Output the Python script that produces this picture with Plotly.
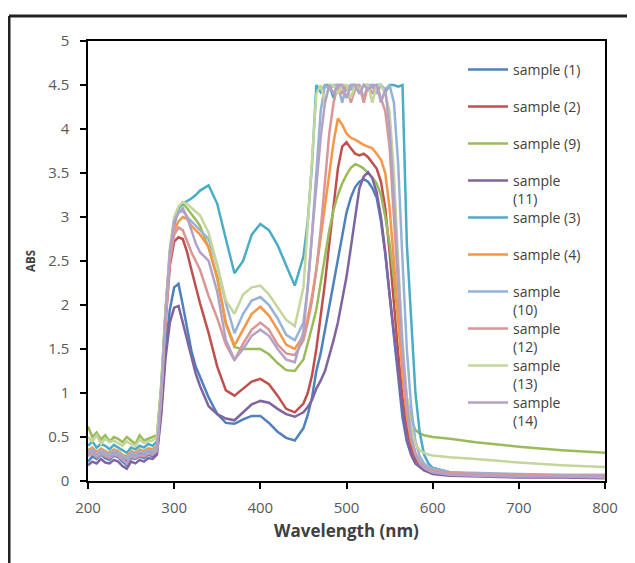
import plotly.graph_objects as go

wavelength = [200,205,210,215,220,225,230,235,240,245,250,255,260,265,270,275,280,
              285,290,295,300,305,310,315,320,325,330,
              340,350,360,370,380,390,400,410,420,430,440,450,
              455,460,465,470,475,480,485,490,495,500,505,510,515,520,525,530,535,540,545,550,555,560,565,570,575,580,585,590,595,600,
              620,650,700,750,800]

names = ["sample (1)", "sample (2)", "sample (9)", "sample<br>(11)", "sample (3)",
         "sample (4)", "sample<br>(10)", "sample<br>(12)", "sample<br>(13)", "sample<br>(14)"]
colors = ["#4F81BD", "#C0504D", "#9BBB59", "#8064A2", "#4BACC6",
          "#F79646", "#95B3D7", "#D99694", "#C3D69B", "#B3A2C7"]

s1 = [0.22,0.28,0.25,0.30,0.26,0.24,0.29,0.27,0.22,0.18,0.26,0.25,0.28,0.26,0.30,0.28,0.32,
      0.80,1.50,1.95,2.20,2.24,2.00,1.72,1.48,1.30,1.18,
      0.95,0.76,0.66,0.65,0.70,0.74,0.74,0.66,0.56,0.49,0.46,0.60,
      0.75,0.95,1.25,1.45,1.72,1.97,2.22,2.50,2.80,3.05,3.22,3.34,3.40,3.43,3.40,3.33,3.22,2.95,2.58,2.13,1.65,1.18,0.72,0.45,0.30,0.20,0.16,0.13,0.11,0.10,
      0.08,0.07,0.06,0.05,0.05]
s2 = [0.30,0.34,0.28,0.33,0.30,0.27,0.32,0.30,0.26,0.22,0.30,0.28,0.31,0.30,0.33,0.31,0.36,
      0.95,1.80,2.45,2.72,2.77,2.75,2.60,2.40,2.20,2.02,
      1.68,1.30,1.03,0.97,1.05,1.13,1.16,1.10,0.97,0.82,0.78,0.88,
      1.00,1.20,1.50,1.85,2.25,2.70,3.15,3.55,3.80,3.85,3.78,3.72,3.70,3.72,3.68,3.62,3.55,3.40,3.10,2.60,2.00,1.45,0.95,0.60,0.38,0.25,0.18,0.14,0.12,0.10,
      0.08,0.07,0.06,0.05,0.05]
s9 = [0.62,0.50,0.55,0.47,0.52,0.45,0.50,0.48,0.44,0.50,0.46,0.42,0.52,0.46,0.48,0.50,0.52,
      1.10,1.95,2.60,2.95,3.10,3.15,3.10,3.04,2.97,2.90,
      2.65,2.30,1.78,1.52,1.50,1.50,1.50,1.44,1.34,1.26,1.25,1.38,
      1.55,1.75,1.95,2.25,2.55,2.85,3.08,3.25,3.38,3.48,3.56,3.60,3.58,3.55,3.50,3.45,3.38,3.25,3.00,2.70,2.30,1.80,1.35,0.95,0.70,0.58,0.54,0.52,0.51,0.50,
      0.48,0.44,0.39,0.35,0.32]
s11 = [0.18,0.22,0.20,0.25,0.21,0.20,0.24,0.22,0.17,0.14,0.22,0.20,0.24,0.22,0.26,0.25,0.30,
       0.75,1.40,1.80,1.97,1.99,1.80,1.60,1.41,1.22,1.08,
       0.85,0.76,0.71,0.69,0.78,0.87,0.91,0.89,0.82,0.76,0.73,0.78,
       0.84,0.92,1.05,1.14,1.25,1.42,1.60,1.80,2.05,2.32,2.65,3.00,3.33,3.46,3.51,3.44,3.28,3.00,2.60,2.12,1.68,1.25,0.82,0.48,0.30,0.20,0.16,0.12,0.10,0.08,
       0.06,0.05,0.04,0.04,0.03]
s3 = [0.40,0.45,0.38,0.42,0.40,0.36,0.41,0.38,0.35,0.32,0.38,0.36,0.40,0.38,0.42,0.40,0.45,
      1.05,1.90,2.55,2.90,3.10,3.15,3.18,3.21,3.25,3.30,
      3.36,3.15,2.75,2.36,2.50,2.80,2.92,2.85,2.68,2.45,2.22,2.55,
      2.95,3.60,4.50,4.42,4.50,4.50,4.35,4.50,4.50,4.45,4.50,4.50,4.40,4.50,4.50,4.47,4.50,4.50,4.42,4.50,4.50,4.48,4.50,2.70,1.80,1.00,0.55,0.30,0.20,0.15,
      0.10,0.08,0.07,0.06,0.06]
s4 = [0.35,0.38,0.33,0.37,0.34,0.32,0.36,0.34,0.30,0.28,0.34,0.32,0.36,0.34,0.37,0.36,0.40,
      1.00,1.90,2.55,2.85,2.95,3.00,2.98,2.90,2.85,2.80,
      2.66,2.32,1.80,1.54,1.72,1.90,1.98,1.88,1.72,1.55,1.50,1.65,
      1.85,2.10,2.40,2.75,3.10,3.50,3.85,4.12,4.05,3.95,3.90,3.88,3.85,3.82,3.80,3.78,3.72,3.65,3.50,3.10,2.50,1.80,1.20,0.75,0.45,0.30,0.22,0.17,0.14,0.12,
      0.09,0.08,0.07,0.06,0.06]
s10 = [0.33,0.36,0.30,0.35,0.32,0.30,0.34,0.32,0.28,0.26,0.32,0.30,0.34,0.32,0.35,0.34,0.38,
       1.00,1.90,2.60,2.95,3.05,3.07,3.00,2.95,2.90,2.85,
       2.75,2.45,2.02,1.68,1.90,2.05,2.09,2.00,1.85,1.66,1.60,1.80,
       2.20,2.80,3.50,4.20,4.50,4.45,4.50,4.50,4.30,4.50,4.45,4.50,4.50,4.35,4.50,4.50,4.40,4.50,4.45,4.50,4.30,3.60,2.50,1.50,0.85,0.45,0.28,0.20,0.16,0.14,
       0.10,0.09,0.08,0.07,0.07]
s12 = [0.28,0.32,0.27,0.31,0.28,0.26,0.30,0.28,0.24,0.20,0.28,0.26,0.29,0.28,0.31,0.30,0.34,
       0.95,1.80,2.50,2.80,2.88,2.85,2.72,2.60,2.50,2.40,
       2.10,1.85,1.55,1.37,1.56,1.72,1.80,1.72,1.55,1.45,1.43,1.60,
       1.80,2.05,2.40,2.85,3.40,3.95,4.30,4.50,4.40,4.50,4.30,4.45,4.50,4.30,4.50,4.40,4.50,4.35,4.20,3.80,3.00,2.10,1.40,0.85,0.50,0.32,0.22,0.17,0.14,0.12,
       0.09,0.08,0.07,0.06,0.06]
s13 = [0.50,0.45,0.52,0.42,0.48,0.44,0.46,0.43,0.40,0.45,0.42,0.40,0.47,0.43,0.45,0.46,0.50,
       1.05,1.95,2.65,3.00,3.12,3.17,3.15,3.10,3.06,3.02,
       2.82,2.45,2.05,1.90,2.12,2.20,2.22,2.12,1.98,1.83,1.76,2.20,
       2.90,3.70,4.40,4.50,4.30,4.50,4.50,4.40,4.50,4.50,4.35,4.50,4.45,4.50,4.50,4.30,4.50,4.50,4.40,4.20,3.50,2.50,1.60,0.95,0.60,0.42,0.35,0.32,0.30,0.29,
       0.27,0.25,0.21,0.18,0.16]
s14 = [0.30,0.34,0.28,0.32,0.30,0.27,0.31,0.29,0.25,0.20,0.29,0.27,0.30,0.29,0.32,0.31,0.35,
       1.00,1.90,2.60,2.95,3.05,3.10,3.00,2.85,2.70,2.60,
       2.50,2.15,1.60,1.38,1.50,1.65,1.72,1.65,1.50,1.38,1.35,1.70,
       2.20,2.80,3.40,3.90,4.30,4.50,4.40,4.50,4.50,4.35,4.50,4.50,4.40,4.50,4.45,4.50,4.50,4.30,4.45,4.00,3.20,2.30,1.50,0.90,0.50,0.30,0.20,0.15,0.12,0.10,
       0.07,0.06,0.05,0.05,0.04]

series = [s1, s2, s9, s11, s3, s4, s10, s12, s13, s14]

x_ticks = [200, 300, 400, 500, 600, 700, 800]
y_ticks = [0, 0.5, 1, 1.5, 2, 2.5, 3, 3.5, 4, 4.5, 5]
y_labels = ["0", "0.5", "1", "1.5", "2", "2.5", "3", "3.5", "4", "4.5", "5"]

FONT = "Open Sans"
W, H = 635, 563
OFF = 8                      # page body offset
PL, PT, PW, PH = 88, 41, 517, 440   # plot box in screenshot pixels
L = PL - OFF
T = PT - OFF
R = W - L - PW
B = H - T - PH

def py2paper(py):
    return (PT + PH - py) / PH

def px2paper(px):
    return (px - PL) / PW

fig = go.Figure()
for i, (nm, col, ys) in enumerate(zip(names, colors, series)):
    lg = "legend" if i == 0 else f"legend{i+1}"
    fig.add_trace(go.Scatter(x=wavelength, y=ys, mode="lines", name=nm,
                             line=dict(color=col, width=2.5), legend=lg))

layout_legends = {}
for i in range(10):
    key = "legend" if i == 0 else f"legend{i+1}"
    yc = 68 + 37 * i
    layout_legends[key] = dict(
        x=px2paper(463), y=py2paper(yc - 14), xanchor="left", yanchor="top",
        valign="top", bgcolor="rgba(0,0,0,0)", borderwidth=0,
        font=dict(family=FONT, size=14, color="#404040"),
        tracegroupgap=0, itemwidth=40)

fig.update_layout(
    width=W, height=H,
    margin=dict(l=L, r=R, t=T, b=B),
    paper_bgcolor="white", plot_bgcolor="white",
    font=dict(family=FONT, size=15, color="#595959"),
    showlegend=True,
    **layout_legends,
    xaxis=dict(range=[200, 800], tickvals=x_ticks, ticktext=[str(v) for v in x_ticks],
               showgrid=False, zeroline=False, showline=True, linecolor="black", linewidth=1.5,
               mirror=True, ticks="outside", ticklen=6, tickcolor="black", tickwidth=1.5,
               ticklabelstandoff=6,
               title=dict(text="<b>Wavelength (nm)</b>", font=dict(family=FONT, size=17, color="#404040"),
                          standoff=9)),
    yaxis=dict(range=[0, 5], tickvals=y_ticks, ticktext=y_labels,
               showgrid=False, zeroline=False, showline=True, linecolor="black", linewidth=1.5,
               mirror=True, ticks="outside", ticklen=6, tickcolor="black", tickwidth=1.5,
               ticklabelstandoff=8,
               title=dict(text="<b>ABS</b>", font=dict(family=FONT, size=11.5, color="#404040"),
                          standoff=10)),
    shapes=[
        dict(type="line", xref="paper", yref="paper", x0=px2paper(9), x1=px2paper(650),
             y0=py2paper(16), y1=py2paper(16), line=dict(color="#222222", width=3)),
        dict(type="line", xref="paper", yref="paper", x0=px2paper(9), x1=px2paper(9),
             y0=py2paper(16), y1=py2paper(580), line=dict(color="#222222", width=3)),
    ],
)

fig.write_html("out.html")
